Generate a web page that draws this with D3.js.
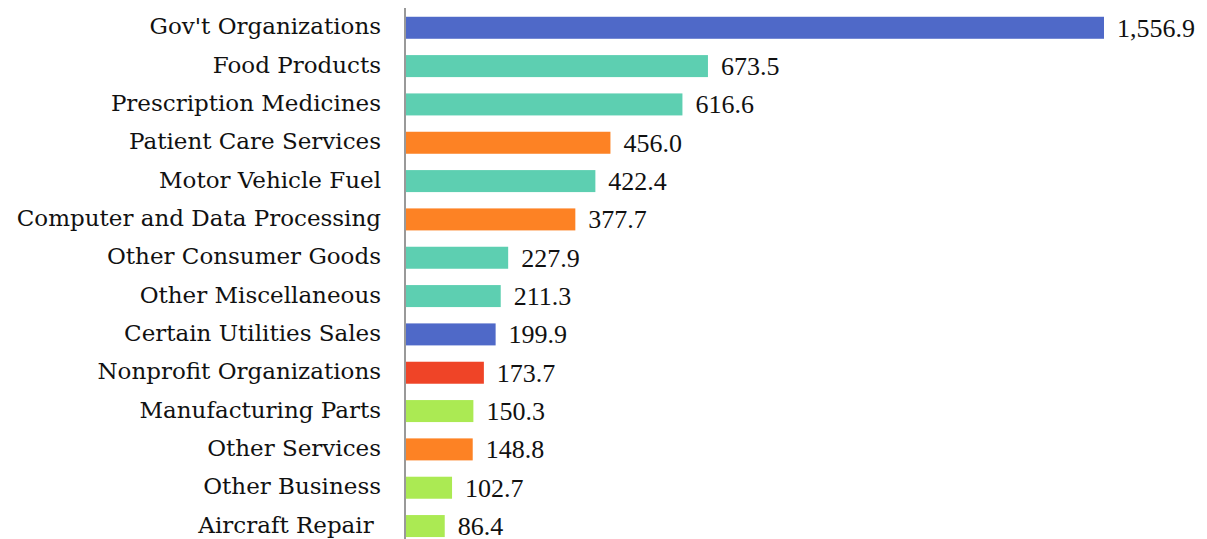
<!DOCTYPE html>
<html>
<head>
<meta charset="utf-8">
<script src="https://cdn.jsdelivr.net/npm/d3@7"></script>
<style>
  body { margin: 0; background: #fff; }
  text { fill: #111; }
</style>
</head>
<body>
<svg id="chart" width="1207" height="539"></svg>
<script>
// categories, top to bottom
var categories = ["Gov't Organizations", "Food Products", "Prescription Medicines", "Patient Care Services",
  "Motor Vehicle Fuel", "Computer and Data Processing", "Other Consumer Goods", "Other Miscellaneous",
  "Certain Utilities Sales", "Nonprofit Organizations", "Manufacturing Parts", "Other Services",
  "Other Business", "Aircraft Repair\u00a0"];
var values = [1556.9, 673.5, 616.6, 456.0, 422.4, 377.7, 227.9, 211.3, 199.9, 173.7, 150.3, 148.8, 102.7, 86.4];
var groups = ["gov", "goods", "goods", "services", "goods", "services", "goods", "goods",
  "gov", "nonprofit", "business", "services", "business", "business"];

var groupNames = ["gov", "goods", "services", "nonprofit", "business"];
var groupColors = ["#4f69c8", "#5dcfb1", "#fd8224", "#ef4427", "#abea53"];

var svg = d3.select("#chart");
var x0 = 406;

var color = d3.scaleOrdinal().domain(groupNames).range(groupColors);

var x = d3.scaleLinear()
  .domain([0, 1556.9])
  .range([x0, 1104]);

var y = d3.scaleBand()
  .domain(categories)
  .range([8.6, 8.6 + 14 * 38.33])
  .paddingInner(0.426)
  .paddingOuter(0.213);

var fmt = d3.format(",.1f");

var rows = svg.selectAll(".row")
  .data(categories)
  .enter().append("g")
  .attr("class", "row");

rows.append("rect")
  .attr("x", x0)
  .attr("y", function(d) { return y(d); })
  .attr("width", function(d, i) { return x(values[i]) - x0; })
  .attr("height", y.bandwidth())
  .style("fill", function(d, i) { return color(groups[i]); });

rows.append("text")
  .attr("x", function(d, i) { return x(values[i]) + 13; })
  .attr("y", function(d) { return y(d) + y.bandwidth() / 2 + 9; })
  .style("font-family", "'Liberation Serif', serif")
  .style("font-size", "26px")
  .text(function(d, i) { return fmt(values[i]); });

// category axis
var axis = svg.append("g")
  .attr("transform", "translate(" + (x0 - 1) + ",0)")
  .call(d3.axisLeft(y).tickSize(0).tickPadding(24));

axis.select(".domain").remove();
axis.selectAll("text")
  .attr("dy", null)
  .attr("y", 6.5)
  .style("font-size", "23px")
  .style("font-family", "'DejaVu Serif', serif")
  .attr("fill", "#111");

svg.append("line")
  .attr("x1", x0 - 1).attr("x2", x0 - 1)
  .attr("y1", 8).attr("y2", 539)
  .style("stroke", "#999")
  .style("stroke-width", 2);
</script>
</body>
</html>
